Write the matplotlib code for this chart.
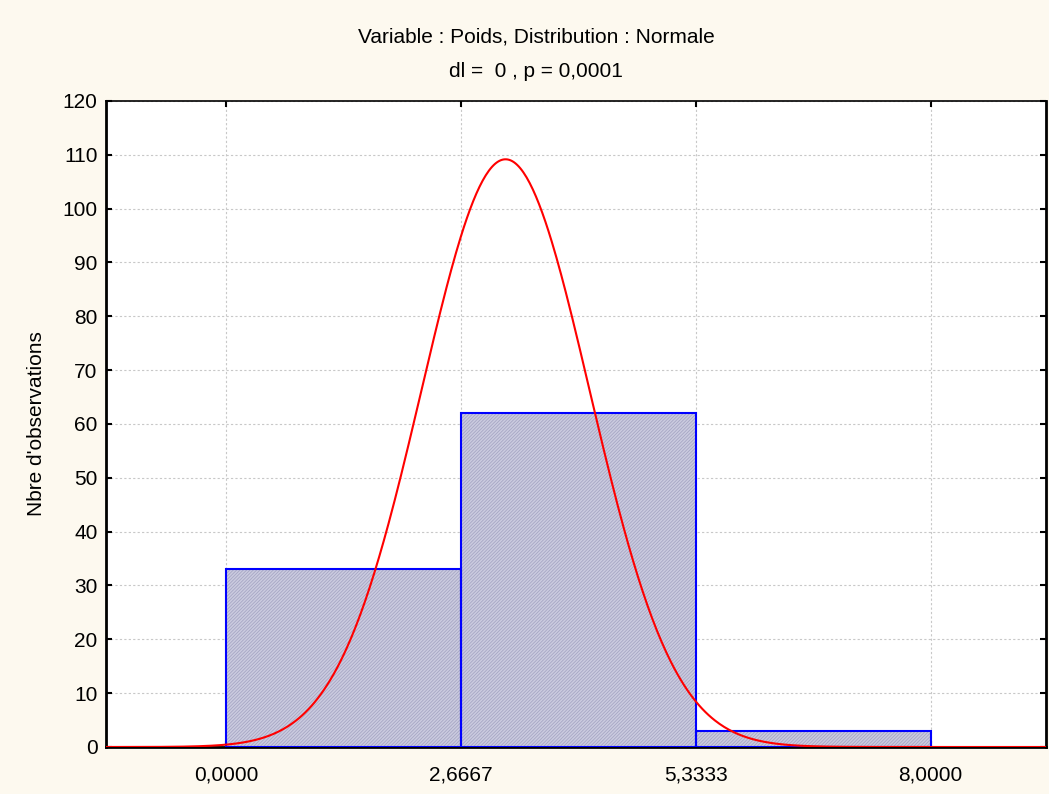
import numpy as np
import matplotlib
matplotlib.use("Agg")
from matplotlib import pyplot as plt

# Histogram data (bin edges and counts)
bin_edges = [0.0, 2.6667, 5.3333, 8.0]
counts = [33, 62, 3]
tick_labels = ["0,0000", "2,6667", "5,3333", "8,0000"]

# Fitted normal curve parameters
fit_mean = 3.175
fit_std = 0.955
n_obs = sum(counts)

plt.rcParams['font.family'] = ['Liberation Sans', 'DejaVu Sans']
plt.rcParams['hatch.linewidth'] = 0.6

fig = plt.figure(figsize=(10.49, 7.94), dpi=100, facecolor='#fdf9ef')
ax = fig.add_axes([0.1011, 0.0592, 0.896, 0.8136])

# Bars: hatched fill, then blue outline on top
widths = np.diff(bin_edges)
ax.bar(bin_edges[:-1], counts, width=widths, align='edge',
       facecolor='#cbcbdf', edgecolor='#a6a6c4', linewidth=0,
       hatch='//////////', zorder=3)
ax.bar(bin_edges[:-1], counts, width=widths, align='edge',
       fill=False, edgecolor='#0000ff', linewidth=1.5, zorder=3)

# Normal curve scaled to counts
bw = widths[0]
xs = np.linspace(-1.36, 9.31, 600)
ys = n_obs * bw / (fit_std * np.sqrt(2 * np.pi)) * np.exp(-(xs - fit_mean) ** 2 / (2 * fit_std ** 2))
ax.plot(xs, ys, color='#ff0000', linewidth=1.5, zorder=4)

ax.set_xlim(-1.36, 9.31)
ax.set_ylim(0, 120)
ax.set_xticks(bin_edges)
ax.set_xticklabels(tick_labels)
ax.set_yticks(range(0, 121, 10))

ax.grid(True, color='#c8c8c8', linestyle=(0, (2, 2)), linewidth=0.8, zorder=0)
ax.set_axisbelow(True)

ax.tick_params(direction='in', length=4, width=1.5, top=True, right=True,
               labelsize=15, colors='black')
ax.tick_params(axis='y', pad=6)
ax.tick_params(axis='x', pad=13)
for side in ['left', 'bottom', 'right']:
    ax.spines[side].set_linewidth(2)
ax.spines['top'].set_linewidth(1.2)

ax.set_ylabel("Nbre d'observations", fontsize=15, labelpad=12)

fig.text(0.511, 0.953, "Variable : Poids, Distribution : Normale", ha='center', va='center', fontsize=15)
fig.text(0.511, 0.910, "dl =  0 , p = 0,0001", ha='center', va='center', fontsize=15)

fig.savefig("out.png", dpi=100, facecolor=fig.get_facecolor())
